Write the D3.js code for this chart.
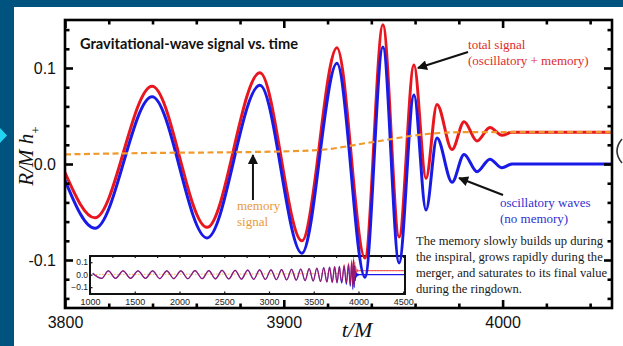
<!DOCTYPE html>
<html>
<head>
<meta charset="utf-8">
<script src="https://cdn.jsdelivr.net/npm/d3@7"></script>
<style>
  html, body { margin: 0; padding: 0; background: #00527f; }
  svg { display: block; }
</style>
</head>
<body>
<svg id="chart" width="623" height="346"></svg>
<script>
// ---------- values ----------
const xMajorTicks = [3800, 3900, 4000];
const yMajorTicks = [-0.1, 0.0, 0.1];
const yTickLabels = ['-0.1', '0.0', '0.1'];

// oscillatory waves (no memory): [t/M, h]
const oscWave = [
  [3800, -0.017], [3813.7, -0.067], [3839.8, 0.070], [3864.9, -0.077], [3889.1, 0.082],
  [3908.3, -0.093], [3924.3, 0.105], [3937.1, -0.118], [3945.3, 0.122], [3952.7, -0.103],
  [3959.5, 0.072], [3965.0, -0.048], [3970.0, 0.027], [3976.9, -0.019], [3982.4, 0.010],
  [3988.3, -0.008], [3994.2, 0.005], [3999.7, -0.004], [4004.3, 0.000], [4050, 0.000]
];

// total signal (oscillatory + memory)
const totalWave = [
  [3800, -0.009], [3813.7, -0.056], [3839.8, 0.081], [3864.9, -0.066], [3889.1, 0.095],
  [3908.3, -0.080], [3924.3, 0.121], [3937.1, -0.098], [3945.3, 0.145], [3952.7, -0.076],
  [3959.5, 0.103], [3965.0, -0.015], [3970.0, 0.062], [3976.9, 0.015], [3982.4, 0.044],
  [3988.3, 0.024], [3994.2, 0.038], [3999.7, 0.030], [4004.3, 0.033], [4050, 0.033]
];

// memory signal
const memoryWave = [
  [3800, 0.0100], [3839, 0.0115], [3886, 0.0125], [3916, 0.0146], [3938, 0.0219],
  [3948, 0.0255], [3958, 0.0292], [3971, 0.0323], [3985, 0.0333], [4050, 0.0333]
];

// inset: long inspiral before t = 3800
const insetXTicks = [1000, 1500, 2000, 2500, 3000, 3500, 4000, 4500];
const insetYTicks = [-0.1, 0.0, 0.1];
const insetEnd = 4520;
const insetWave = [
  [1030, 0.012], [1130, -0.030], [1205, 0.030], [1285, -0.030], [1370, 0.030], [1453, -0.030],
  [1537, 0.030], [1620, -0.030], [1700, 0.030], [1780, -0.031], [1858, 0.031], [1936, -0.031],
  [2015, 0.031], [2093, -0.032], [2173, 0.032], [2254, -0.032], [2328, 0.033], [2402, -0.033],
  [2476, 0.034], [2551, -0.034], [2622, 0.035], [2693, -0.035], [2762, 0.036], [2830, -0.037],
  [2895, 0.038], [2960, -0.038], [3022, 0.039], [3083, -0.040], [3141, 0.041], [3198, -0.042],
  [3252, 0.043], [3305, -0.044], [3355, 0.045], [3404, -0.047], [3449, 0.048], [3494, -0.050],
  [3535, 0.052], [3576, -0.054], [3612, 0.056], [3647, -0.058], [3677, 0.060], [3707, -0.062],
  [3734, 0.064], [3760, -0.065], [3787, 0.067]
];
const insetMemoryStart = [[1000, 0.002]];

const paragraph = [
  'The memory slowly builds up during',
  'the inspiral, grows rapidly during the',
  'merger, and saturates to its final value',
  'during the ringdown.'
];

// ---------- setup ----------
const RED = '#e8161e', BLUE = '#1a1ae6', ORANGE = '#f09a2e';
const SANS = "'Liberation Sans', Arial, sans-serif";
const SERIF = "'Liberation Serif', 'Times New Roman', serif";
const svg = d3.select('#chart');
const frame = { left: 65, right: 612, top: 20, bottom: 308 };

const x = d3.scaleLinear().domain([3800, 4050]).range([frame.left, frame.right]);
const y = d3.scaleLinear().domain([-0.15, 0.15]).range([frame.bottom, frame.top]);

// slide background + white panel
svg.append('rect').attr('width', 623).attr('height', 346).attr('fill', '#00527f');
svg.append('rect').attr('x', 14).attr('y', 7).attr('width', 609).attr('height', 339).attr('fill', '#fff');
svg.append('path').attr('d', 'M0,128 L7,135.5 L0,143 Z').attr('fill', '#22d4f2');
svg.append('path').attr('d', 'M622,139 Q612,151 622,163').attr('fill', 'none')
  .attr('stroke', '#333').attr('stroke-width', 1.6);

const defs = svg.append('defs');
defs.append('clipPath').attr('id', 'plotClip').append('rect')
  .attr('x', frame.left).attr('y', frame.top)
  .attr('width', frame.right - frame.left).attr('height', frame.bottom - frame.top);
defs.append('marker').attr('id', 'arrow').attr('viewBox', '0 0 10 10')
  .attr('refX', 9).attr('refY', 5).attr('markerWidth', 6).attr('markerHeight', 5)
  .attr('orient', 'auto').attr('markerUnits', 'strokeWidth')
  .append('path').attr('d', 'M0,0 L10,5 L0,10 Z').attr('fill', '#111');

// ---------- inset ----------
const xi = d3.scaleLinear().domain([1000, insetEnd]).range([90, 405]);
const yi = d3.scaleLinear().domain([-0.155, 0.15]).range([294, 256]);

const inset = svg.append('g');
inset.append('rect').attr('x', 90).attr('y', 256).attr('width', 315).attr('height', 38)
  .attr('fill', '#fff');

const iline = d3.line().x(d => xi(d[0])).y(d => yi(d[1])).curve(d3.curveMonotoneX);
inset.append('path')
  .datum(insetMemoryStart.concat(memoryWave, [[insetEnd, 0.0333]]))
  .attr('fill', 'none').attr('stroke', ORANGE).attr('stroke-width', 0.8)
  .attr('stroke-dasharray', '1.5,1.5').attr('d', iline);
inset.append('path')
  .datum(insetWave.concat(oscWave, [[insetEnd, 0]]))
  .attr('fill', 'none').attr('stroke', BLUE).attr('stroke-width', 1.2).attr('d', iline);
inset.append('path')
  .datum(insetWave.concat(totalWave, [[insetEnd, 0.0333]]))
  .attr('fill', 'none').attr('stroke', RED).attr('stroke-width', 1.2)
  .attr('stroke-opacity', 0.6).attr('d', iline);

const insetFont = size => g => g.selectAll('text')
  .style('font-family', SANS).style('font-size', size + 'px').attr('fill', '#222');

inset.append('g').attr('transform', 'translate(0,294)')
  .call(d3.axisBottom(xi).tickValues(insetXTicks).tickSize(-2.5).tickPadding(5).tickFormat(d3.format('d')))
  .call(g => g.select('.domain').remove())
  .call(insetFont(9));
inset.append('g').attr('transform', 'translate(0,256)')
  .call(d3.axisTop(xi).tickValues(d3.range(1000, 4501, 250)).tickSize(-2).tickFormat(''))
  .call(g => g.select('.domain').remove());
inset.append('g').attr('transform', 'translate(90,0)')
  .call(d3.axisLeft(yi).tickValues(insetYTicks).tickSize(-2.5).tickPadding(2).tickFormat(d3.format('.1f')))
  .call(g => g.select('.domain').remove())
  .call(insetFont(8.5));
inset.selectAll('.tick line').attr('stroke', '#111').attr('stroke-width', 1.2);
inset.append('rect').attr('x', 90).attr('y', 256).attr('width', 315).attr('height', 38)
  .attr('fill', 'none').attr('stroke', '#111').attr('stroke-width', 2);

// ---------- main curves ----------
const line = d3.line().x(d => x(d[0])).y(d => y(d[1])).curve(d3.curveMonotoneX);
const curves = svg.append('g').attr('clip-path', 'url(#plotClip)');
curves.append('path').datum(totalWave)
  .attr('fill', 'none').attr('stroke', RED).attr('stroke-width', 3).attr('d', line);
curves.append('path').datum(oscWave)
  .attr('fill', 'none').attr('stroke', BLUE).attr('stroke-width', 3).attr('d', line);
curves.append('path').datum(memoryWave)
  .attr('fill', 'none').attr('stroke', ORANGE).attr('stroke-width', 2.2)
  .attr('stroke-dasharray', '6,3.5').attr('d', line);

// ---------- frame + axes ----------
svg.append('rect').attr('x', frame.left).attr('y', frame.top)
  .attr('width', frame.right - frame.left).attr('height', frame.bottom - frame.top)
  .attr('fill', 'none').attr('stroke', '#000').attr('stroke-width', 2.6);

const xMinor = d3.range(3800, 4051, 20).filter(v => !xMajorTicks.includes(v));
const yMinor = d3.range(-14, 15, 2).map(v => v / 100).filter(v => Math.abs(v * 10 - Math.round(v * 10)) > 1e-6);

function ticks(axis, pos, values, size, labels) {
  const g = svg.append('g').attr('transform', pos)
    .call(axis.tickValues(values).tickSize(-size).tickPadding(labels ? 9 : 0)
      .tickFormat(labels || ''));
  g.select('.domain').remove();
  g.selectAll('.tick line').attr('stroke', '#000').attr('stroke-width', 2.6);
  g.selectAll('text').style('font-family', SANS).style('font-size', '16px').attr('fill', '#111');
  return g;
}
const yLab = d => yTickLabels[yMajorTicks.indexOf(d)];

ticks(d3.axisBottom(x), `translate(0,${frame.bottom})`, xMajorTicks, 8, d3.format('d'));
ticks(d3.axisBottom(x), `translate(0,${frame.bottom})`, xMinor, 4.5);
ticks(d3.axisTop(x), `translate(0,${frame.top})`, xMajorTicks, 8);
ticks(d3.axisTop(x), `translate(0,${frame.top})`, xMinor, 4.5);
ticks(d3.axisLeft(y), `translate(${frame.left},0)`, yMajorTicks, 8, yLab);
ticks(d3.axisLeft(y), `translate(${frame.left},0)`, yMinor, 4.5);
ticks(d3.axisRight(y), `translate(${frame.right},0)`, yMajorTicks, 8);
ticks(d3.axisRight(y), `translate(${frame.right},0)`, yMinor, 4.5);

// axis titles
const yTitle = svg.append('text')
  .attr('transform', 'translate(33,156) rotate(-90)').attr('text-anchor', 'middle')
  .style('font-family', SERIF).style('font-style', 'italic')
  .style('font-size', '21px').attr('fill', '#111');
yTitle.append('tspan').text('R/M h');
yTitle.append('tspan').attr('dy', 7).style('font-size', '13px').style('font-style', 'normal').text('+');

svg.append('text').attr('x', 357).attr('y', 337).attr('text-anchor', 'middle')
  .style('font-family', SERIF).style('font-style', 'italic')
  .style('font-size', '22px').attr('fill', '#111').text('t/M');

// ---------- title + annotations ----------
svg.append('text').attr('x', 80).attr('y', 49)
  .style('font-family', "Lato, 'Open Sans', sans-serif").style('font-weight', 'bold')
  .style('font-size', '14.6px').attr('fill', '#111').text('Gravitational-wave signal vs. time');

function note(lines, t, h, color, size) {
  const txt = svg.append('text').style('font-family', SERIF).style('font-size', size + 'px')
    .attr('fill', color);
  lines.forEach((s, i) => {
    txt.append('tspan').attr('x', x(t)).attr('y', y(h) + i * 16).text(s);
  });
}
note(['total signal', '(oscillatory + memory)'], 3984.2, 0.1198, '#e02a2a', 13);
note(['memory', 'signal'], 3878.6, -0.048, '#ea9a3a', 13);
note(['oscillatory waves', '(no memory)'], 3998.8, -0.0448, '#3030d0', 13);
note(paragraph, 3960.4, -0.0844, '#1a1a1a', 12.6);

function arrow(t0, h0, t1, h1) {
  svg.append('line').attr('x1', x(t0)).attr('y1', y(h0)).attr('x2', x(t1)).attr('y2', y(h1))
    .attr('stroke', '#111').attr('stroke-width', 2).attr('marker-end', 'url(#arrow)');
}
arrow(3984.2, 0.1167, 3961.3, 0.100);
arrow(3885.9, -0.0375, 3885.9, 0.0094);
arrow(4000.2, -0.0323, 3980.1, -0.0146);
</script>
</body>
</html>
